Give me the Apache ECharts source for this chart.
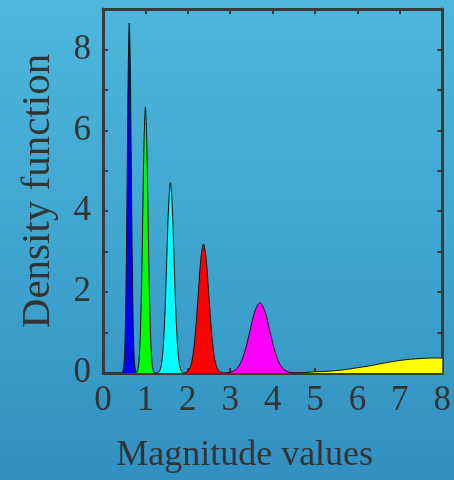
<!DOCTYPE html>
<html>
<head>
<meta charset="utf-8">
<script src="https://cdn.jsdelivr.net/npm/echarts@6/dist/echarts.min.js"></script>
<style>
html,body{margin:0;padding:0;}
#c{width:454px;height:480px;background:linear-gradient(to bottom,#4db7dc 0%,#3fa6d0 50%,#3290c0 100%);}
</style>
</head>
<body>
<div id="c"></div>
<script>
// ---- data ----
var xTickLabels = ['0','1','2','3','4','5','6','7','8'];
var yTickLabels = ['0','2','4','6','8'];
var xAxisTitle = 'Magnitude values';
var yAxisTitle = 'Density function';

var blueX  = [0.459,0.482,0.505,0.528,0.551,0.574,0.597,0.620,0.643,0.666,0.689,0.712,0.735,0.758,0.781];
var blueY  = [0.02,0.10,0.38,1.17,2.81,5.25,7.63,8.65,7.63,5.25,2.81,1.17,0.38,0.10,0.02];

var greenX = [0.787,0.817,0.848,0.878,0.909,0.939,0.970,1.000,1.030,1.061,1.091,1.122,1.152,1.183,1.213];
var greenY = [0.01,0.07,0.29,0.89,2.14,3.99,5.81,6.58,5.81,3.99,2.14,0.89,0.29,0.07,0.01];

var cyanX  = [1.293,1.335,1.378,1.420,1.463,1.505,1.548,1.590,1.632,1.675,1.717,1.760,1.802,1.845,1.887];
var cyanY  = [0.01,0.05,0.21,0.64,1.53,2.86,4.16,4.71,4.16,2.86,1.53,0.64,0.21,0.05,0.01];

var redX   = [1.933,1.995,2.058,2.120,2.183,2.245,2.308,2.370,2.433,2.495,2.558,2.620,2.683,2.745,2.808];
var redY   = [0.01,0.04,0.14,0.43,1.04,1.93,2.82,3.19,2.82,1.93,1.04,0.43,0.14,0.04,0.01];

var magX   = [2.898,3.013,3.127,3.242,3.356,3.471,3.585,3.700,3.815,3.929,4.044,4.158,4.273,4.387,4.502];
var magY   = [0.00,0.02,0.08,0.24,0.57,1.06,1.54,1.74,1.54,1.06,0.57,0.24,0.08,0.02,0.00];

var yelX   = [4.50,4.75,5.00,5.25,5.50,5.75,6.00,6.25,6.50,6.75,7.00,7.25,7.50,7.75,8.00];
var yelY   = [0.00,0.01,0.03,0.04,0.06,0.09,0.13,0.17,0.22,0.27,0.31,0.34,0.36,0.37,0.37];

// ---- chart ----
function pairs(xs, ys){ return xs.map(function(x,i){ return [x, ys[i]]; }); }
var frame = '#3a3a3a';
var textCol = '#333333';
var serif = 'Liberation Serif, Times New Roman, serif';

function curve(name, xs, ys, col){
  return {
    name: name, type: 'line', data: pairs(xs, ys), symbol: 'none', smooth: 0.3,
    lineStyle: {color: '#111', width: 1},
    areaStyle: {color: col, opacity: 1},
    z: 3
  };
}

var chart = echarts.init(document.getElementById('c'), null, {renderer: 'canvas'});
chart.setOption({
  backgroundColor: 'transparent',
  animation: false,
  grid: {left: 103, right: 11, top: 9, bottom: 107, containLabel: false},
  xAxis: [{
    type: 'value', min: 0, max: 8, interval: 1, position: 'bottom',
    name: xAxisTitle, nameLocation: 'middle', nameGap: 65,
    nameTextStyle: {fontFamily: serif, fontSize: 36, color: textCol, padding: [0, 56, 0, 0]},
    axisLine: {show: true, onZero: false, lineStyle: {color: frame, width: 3}},
    axisTick: {show: true, inside: true, length: 5, lineStyle: {color: frame, width: 2}},
    axisLabel: {show: true, margin: 10, fontFamily: serif, fontSize: 35, color: textCol,
      formatter: function(v){ var i = xTickLabels.indexOf(String(v)); return i >= 0 ? xTickLabels[i] : ''; }},
    splitLine: {show: false}
  },{
    type: 'value', min: 0, max: 8, interval: 1, position: 'top',
    axisLine: {show: true, onZero: false, lineStyle: {color: frame, width: 3}},
    axisTick: {show: true, inside: true, length: 5, lineStyle: {color: frame, width: 2}},
    axisLabel: {show: false}, splitLine: {show: false}
  }],
  yAxis: [{
    type: 'value', min: 0, max: 9, interval: 1, position: 'left',
    name: yAxisTitle, nameLocation: 'middle', nameGap: 44, nameRotate: 90,
    nameTextStyle: {fontFamily: serif, fontSize: 41, color: textCol},
    axisLine: {show: true, onZero: false, lineStyle: {color: frame, width: 3}},
    axisTick: {show: true, inside: true, length: 5, lineStyle: {color: frame, width: 2}},
    axisLabel: {show: true, margin: 12, fontFamily: serif, fontSize: 35, color: textCol,
      formatter: function(v){ var i = yTickLabels.indexOf(String(v)); return i >= 0 ? yTickLabels[i] : ''; }},
    splitLine: {show: false}
  },{
    type: 'value', min: 0, max: 9, interval: 1, position: 'right',
    axisLine: {show: true, onZero: false, lineStyle: {color: frame, width: 3}},
    axisTick: {show: true, inside: true, length: 5, lineStyle: {color: frame, width: 2}},
    axisLabel: {show: false}, splitLine: {show: false}
  }],
  series: [
    curve('yellow', yelX, yelY, '#ffff00'),
    curve('magenta', magX, magY, '#ff00ff'),
    curve('red', redX, redY, '#ff0000'),
    curve('cyan', cyanX, cyanY, '#00ffff'),
    curve('green', greenX, greenY, '#00ff00'),
    curve('blue', blueX, blueY, '#0000ee')
  ]
});
</script>
</body>
</html>
